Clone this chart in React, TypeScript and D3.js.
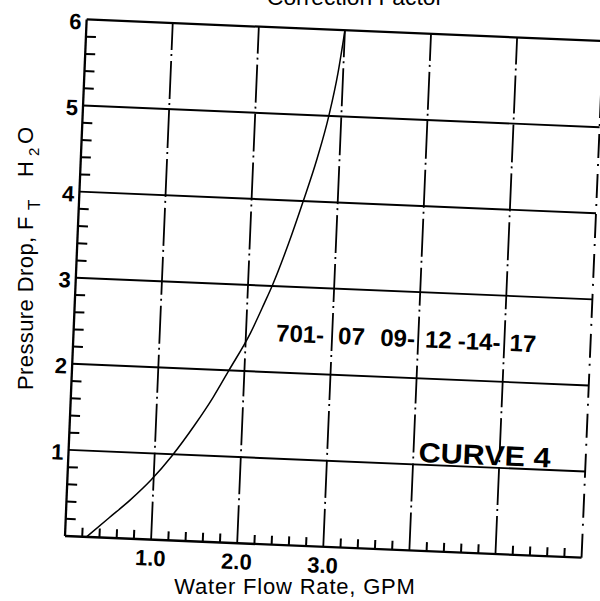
import React from 'react';
import * as d3 from 'd3';

// Curve 4 : water flow rate (GPM) vs pressure drop (ft H2O)
const flowGPM = [0.25, 0.5, 0.74, 0.97, 1.2, 1.45, 1.65, 1.82, 2.05, 2.2, 2.28, 2.45, 2.6, 2.74, 2.855, 2.94, 3.0];
const pressureFt = [0, 0.23, 0.45, 0.69, 0.98, 1.35, 1.68, 2.0, 2.44, 2.8, 3.0, 3.5, 4.0, 4.5, 5.0, 5.5, 6.0];

const yTickValues = [1, 2, 3, 4, 5, 6];
const yTickLabels = ['1', '2', '3', '4', '5', '6'];
const xTickValues = [1, 2, 3];
const xTickLabels = ['1.0', '2.0', '3.0'];
const gridX = [1, 2, 3, 4, 5];
const gridY = [1, 2, 3, 4, 5];

const modelPieces = ['701-', '07', '09-', '12', '-14-', '17'];
const modelPieceAt = [2.35, 3.07, 3.56, 4.08, 4.46, 5.06];

const FONT = '"Liberation Sans", Arial, Helvetica, sans-serif';

export default function App() {
  const side = 517;
  const x = d3.scaleLinear().domain([0, 6]).range([0, side]);
  const y = d3.scaleLinear().domain([0, 6]).range([0, -side]);

  const minor = d3.range(1, 30).map((i) => i * 0.2).filter((v) => Math.abs(v - Math.round(v)) > 0.01);

  const pts: [number, number][] = flowGPM.map((f, i) => [f, pressureFt[i]]);
  const line = d3
    .line<[number, number]>()
    .x((d) => x(d[0]))
    .y((d) => y(d[1]))
    .curve(d3.curveMonotoneX);

  const stroke = '#000';

  return (
    <svg
      width={600}
      height={601}
      style={{ position: 'absolute', left: 0, top: 0, background: '#fff' }}
    >
      <rect x={0} y={0} width={600} height={601} fill="#fff" />
      {/* top title (cut off in the scan) */}
      <text
        x={267}
        y={5}
        fontFamily={FONT}
        fontSize={22}
        textLength={176}
        lengthAdjust="spacingAndGlyphs"
        fill={stroke}
      >
        Correction Factor
      </text>

      <g transform="translate(65,536) rotate(2.4)">
        {/* horizontal gridlines */}
        {gridY.map((v) => (
          <line key={'h' + v} x1={x(0)} x2={x(6)} y1={y(v)} y2={y(v)} stroke={stroke} strokeWidth={1.9} />
        ))}
        {/* vertical gridlines (broken) */}
        {gridX.map((v) => (
          <line
            key={'v' + v}
            x1={x(v)}
            x2={x(v)}
            y1={y(0)}
            y2={y(6)}
            stroke={stroke}
            strokeWidth={1.8}
            strokeDasharray="38,5,2,4"
          />
        ))}
        {/* right edge */}
        <line x1={x(6)} x2={x(6)} y1={y(0)} y2={y(6)} stroke={stroke} strokeWidth={1.9} strokeDasharray="24,8,2,6" />
        {/* top line */}
        <line x1={x(0)} x2={x(6)} y1={y(6)} y2={y(6)} stroke={stroke} strokeWidth={2.2} />
        {/* axes */}
        <line x1={x(0)} x2={x(0)} y1={y(0)} y2={y(6)} stroke={stroke} strokeWidth={2.3} />
        <line x1={x(0)} x2={x(6)} y1={y(0)} y2={y(0)} stroke={stroke} strokeWidth={2.3} />

        {/* minor ticks */}
        {minor.map((v) => (
          <line key={'ly' + v} x1={x(0)} x2={x(0) + 10} y1={y(v)} y2={y(v)} stroke={stroke} strokeWidth={2} />
        ))}
        {minor.map((v) => (
          <line key={'lx' + v} x1={x(v)} x2={x(v)} y1={y(0)} y2={y(0) - 9} stroke={stroke} strokeWidth={2} />
        ))}

        {/* curve */}
        <path d={line(pts) || ''} fill="none" stroke={stroke} strokeWidth={1.5} />

        {/* y tick labels */}
        {yTickValues.map((v, i) => (
          <text
            key={'yl' + v}
            x={-5}
            y={y(v) + 10}
            textAnchor="end"
            fontFamily={FONT}
            fontWeight="bold"
            fontSize={22}
            fill={stroke}
          >
            {yTickLabels[i]}
          </text>
        ))}
        {/* x tick labels */}
        {xTickValues.map((v, i) => (
          <text
            key={'xl' + v}
            x={x(v)}
            y={26}
            textAnchor="middle"
            fontFamily={FONT}
            fontWeight="bold"
            fontSize={22}
            fill={stroke}
          >
            {xTickLabels[i]}
          </text>
        ))}

        {/* model numbers */}
        {modelPieces.map((s, i) => (
          <text
            key={'m' + i}
            x={x(modelPieceAt[i])}
            y={y(2.36)}
            fontFamily={FONT}
            fontWeight="bold"
            fontSize={24}
            fill={stroke}
          >
            {s}
          </text>
        ))}

        {/* curve label */}
        <text
          x={x(4.06)}
          y={y(1.03)}
          fontFamily={FONT}
          fontWeight="bold"
          fontSize={28}
          textLength={132}
          lengthAdjust="spacingAndGlyphs"
          fill={stroke}
        >
          CURVE 4
        </text>
      </g>

      {/* x axis title */}
      <text
        x={295}
        y={594}
        textAnchor="middle"
        fontFamily={FONT}
        fontSize={22}
        letterSpacing={0.8}
        fill={stroke}
      >
        Water Flow Rate, GPM
      </text>

      {/* y axis title */}
      <g transform="translate(33,390) rotate(-90)">
        <text fontFamily={FONT} fontSize={22} fill={stroke} letterSpacing={0.4}>
          <tspan x={0} y={0}>Pressure Drop, F</tspan>
          <tspan x={180} y={7} fontSize={17}>T</tspan>
          <tspan x={213} y={0}>H</tspan>
          <tspan x={234} y={6} fontSize={15}>2</tspan>
          <tspan x={246} y={0}>O</tspan>
        </text>
      </g>
    </svg>
  );
}
